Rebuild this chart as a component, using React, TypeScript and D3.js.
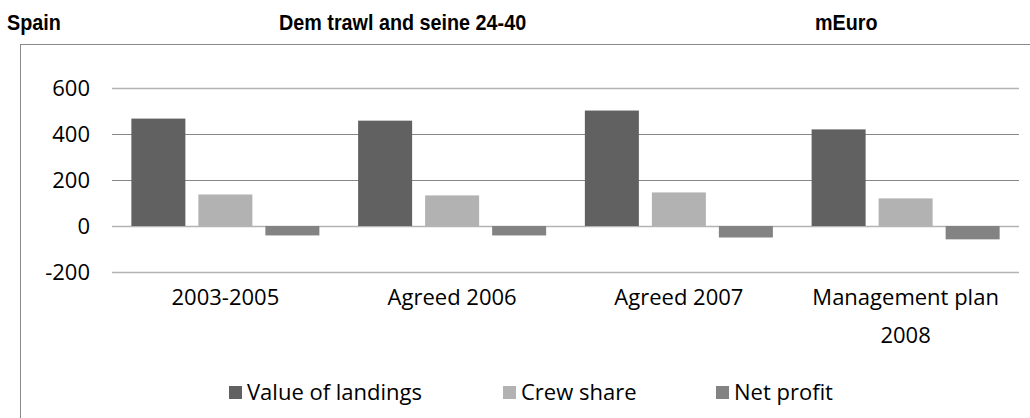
import React from "react";
import * as d3 from "d3";

// Scenario categories (second line of a label after the "|")
const categories = ["2003-2005", "Agreed 2006", "Agreed 2007", "Management plan|2008"];
const seriesNames = ["Value of landings", "Crew share", "Net profit"];
const valueOfLandings = [467, 458, 502, 420];
const crewShare = [137, 133, 146, 120];
const netProfit = [-41, -41, -50, -58];
const yTicks = [-200, 0, 200, 400, 600];

const colors = ["#616161", "#b2b2b2", "#838383"];

const W = 1030;
const H = 418;
const plot = { left: 112, right: 1019, top: 88, bottom: 272 };
const labelFont = "'Open Sans', 'Noto Sans', sans-serif";
const titleFont = "'Liberation Sans', Arial, sans-serif";

const headers = [
  { text: "Spain", x: 7 },
  { text: "Dem trawl and seine 24-40", x: 279 },
  { text: "mEuro", x: 815 },
];

export default function App() {
  const series = [valueOfLandings, crewShare, netProfit];

  const x = d3
    .scaleBand<string>()
    .domain(categories)
    .range([plot.left, plot.right]);
  const inner = d3
    .scaleBand<string>()
    .domain(seriesNames)
    .range([0, x.bandwidth()])
    .paddingInner(0.194)
    .paddingOuter(0.289);
  const y = d3.scaleLinear().domain([-200, 600]).range([plot.bottom, plot.top]);

  const legendItems = [
    { name: seriesNames[0], x: 229 },
    { name: seriesNames[1], x: 503 },
    { name: seriesNames[2], x: 716 },
  ];

  const faint = (t: number) => t === 0 || t === 600 || t === -200;

  return (
    <svg
      width={W}
      height={H}
      style={{ position: "absolute", left: 0, top: 0, background: "#fff" }}
    >
      {/* chart frame */}
      <rect x={20.5} y={44.5} width={1100} height={500} fill="none" stroke="#8a8a8a" strokeWidth={1} />

      {/* header, slightly condensed bold sans */}
      <g fontFamily={titleFont} fontWeight="bold" fontSize={21.5} fill="#000">
        {headers.map((h) => (
          <text key={h.text} transform={`translate(${h.x},30) scale(0.92,1)`}>
            {h.text}
          </text>
        ))}
      </g>

      {/* gridlines */}
      {yTicks.map((t) => (
        <line
          key={t}
          x1={plot.left}
          x2={plot.right}
          y1={Math.round(y(t)) + 0.5}
          y2={Math.round(y(t)) + 0.5}
          stroke={faint(t) ? "#b4b4b4" : "#878787"}
          strokeWidth={faint(t) ? 1.5 : 1}
        />
      ))}

      {/* y tick labels */}
      <g fontFamily={labelFont} fontSize={22} fill="#000" textAnchor="end">
        {yTicks.map((t) => (
          <text key={t} x={90} y={y(t)} dy="0.36em">
            {t}
          </text>
        ))}
      </g>

      {/* bars */}
      {categories.map((c, ci) => (
        <g key={c} transform={`translate(${x(c)},0)`}>
          {series.map((vals, si) => {
            const v = vals[ci];
            const y0 = y(Math.max(0, v));
            const y1 = y(Math.min(0, v));
            return (
              <rect
                key={si}
                x={inner(seriesNames[si])}
                y={y0}
                width={inner.bandwidth()}
                height={y1 - y0}
                fill={colors[si]}
              />
            );
          })}
        </g>
      ))}

      {/* category labels */}
      <g fontFamily={labelFont} fontSize={22} fill="#000" textAnchor="middle">
        {categories.map((c) => {
          const lines = c.split("|");
          const cx = (x(c) as number) + x.bandwidth() / 2;
          return (
            <text key={c} x={cx} y={305}>
              {lines.map((l, i) => (
                <tspan key={i} x={cx} dy={i === 0 ? 0 : 38}>
                  {l}
                </tspan>
              ))}
            </text>
          );
        })}
      </g>

      {/* legend */}
      <g fontFamily={labelFont} fontSize={22} fill="#000">
        {legendItems.map((it, i) => (
          <g key={it.name}>
            <rect x={it.x} y={386} width={13} height={13} fill={colors[i]} />
            <text x={it.x + 18} y={400}>{it.name}</text>
          </g>
        ))}
      </g>
    </svg>
  );
}
